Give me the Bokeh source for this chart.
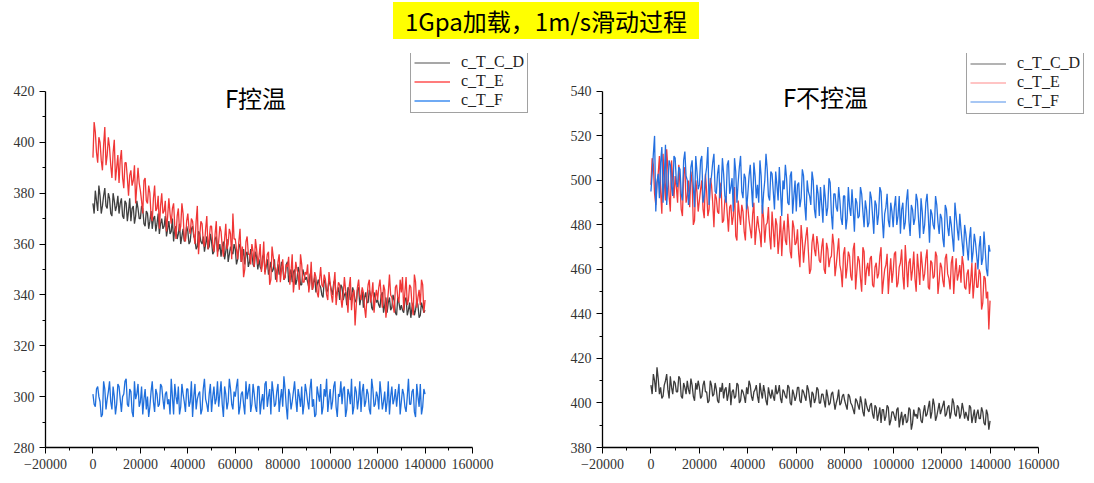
from bokeh.plotting import figure
from bokeh.models import Legend, LegendItem, Label, FixedTicker, Div
from bokeh.layouts import column, row
from bokeh.embed import file_html
from bokeh.resources import INLINE

# ---------------- data ----------------
# samples at x = 0, 1000, ..., 140000 ("main") and at the half steps 500, 1500, ... ("mid")
STEP = 1000

left_cd = [376, 381, 373, 379, 375, 382, 374, 378, 371, 377,
           375, 372, 378, 370, 376, 373, 369, 375, 371, 374,
           370, 374, 367, 372, 369, 366, 371, 368, 364, 370,
           367, 363, 369, 365, 361, 367, 364, 360, 366, 362,
           365, 361, 367, 362, 359, 364, 360, 357, 363, 359,
           361, 357, 363, 358, 355, 361, 357, 353, 359, 356,
           358, 354, 360, 355, 352, 357, 353, 356, 351, 355,
           354, 350, 356, 351, 348, 353, 350, 346, 352, 349,
           351, 347, 353, 348, 345, 350, 346, 349, 344, 348,
           347, 343, 349, 345, 341, 346, 343, 339, 345, 342,
           344, 340, 346, 341, 338, 343, 340, 336, 342, 339,
           341, 337, 343, 339, 335, 341, 337, 340, 334, 339,
           338, 335, 341, 336, 333, 339, 335, 338, 332, 337,
           336, 333, 339, 334, 331, 337, 334, 336, 332, 335,
           334]
left_cd_mid = [372, 377, 383, 372, 379, 375, 380, 372, 380, 373,
               379, 376, 371, 377, 369, 378, 374, 368, 377, 370,
               375, 368, 373, 366, 373, 370, 365, 372, 368, 366,
               371, 366, 364, 370, 366, 362, 368, 363, 361, 367,
               360, 366, 363, 358, 365, 361, 363, 360, 358, 364,
               356, 362, 357, 360, 359, 354, 362, 356, 357, 360,
               352, 359, 353, 358, 356, 351, 358, 352, 357, 350,
               351, 355, 349, 354, 350, 349, 354, 349, 348, 353,
               346, 352, 345, 350, 349, 344, 351, 344, 350, 346,
               345, 348, 342, 347, 344, 344, 340, 346, 341, 346,
               342, 345, 339, 343, 344, 338, 341, 343, 338, 343,
               338, 342, 336, 342, 339, 337, 342, 335, 341, 337,
               336, 340, 333, 339, 337, 334, 340, 333, 339, 334,
               334, 338, 332, 337, 335, 332, 338, 331, 337, 333]
left_e = [394, 404, 392, 400, 389, 406, 395, 398, 386, 401,
          390, 384, 397, 382, 392, 379, 389, 385, 376, 390,
          381, 372, 386, 376, 380, 369, 383, 374, 366, 380,
          373, 365, 378, 368, 376, 362, 374, 367, 372, 361,
          372, 364, 369, 360, 375, 363, 368, 359, 371, 362,
          367, 357, 369, 361, 365, 355, 368, 360, 364, 372,
          362, 354, 366, 359, 350, 363, 356, 360, 351, 358,
          355, 349, 361, 352, 357, 346, 355, 350, 353, 345,
          354, 347, 351, 344, 356, 346, 350, 342, 352, 345,
          348, 341, 353, 344, 347, 339, 351, 343, 346, 338,
          345, 337, 349, 341, 344, 335, 347, 339, 343, 334,
          342, 336, 346, 338, 341, 331, 344, 337, 345, 339,
          338, 346, 335, 342, 336, 348, 339, 333, 344, 337,
          341, 334, 347, 338, 343, 332, 345, 339, 336, 344,
          338]
left_e_mid = [408, 396, 402, 393, 399, 391, 402, 391, 396, 385,
              395, 393, 386, 392, 386, 387, 383, 391, 383, 384,
              377, 385, 377, 383, 371, 378, 373, 379, 375, 372,
              377, 371, 372, 374, 367, 371, 365, 376, 362, 369,
              366, 370, 364, 369, 356, 369, 361, 366, 358, 367,
              360, 364, 355, 367, 359, 362, 358, 366, 354, 362,
              358, 361, 353, 347, 361, 356, 352, 357, 362, 352,
              360, 353, 348, 356, 344, 359, 351, 345, 356, 350,
              346, 352, 355, 349, 341, 353, 348, 356, 345, 349,
              352, 345, 342, 349, 341, 346, 344, 348, 340, 349,
              340, 344, 336, 345, 339, 340, 342, 333, 347, 340,
              328, 343, 340, 343, 335, 339, 346, 340, 333, 342,
              343, 340, 344, 331, 341, 340, 336, 343, 339, 346,
              347, 341, 336, 344, 336, 348, 335, 342, 346, 333]
left_f = [301, 296, 304, 298, 293, 303, 299, 306, 295, 300,
          297, 304, 294, 301, 307, 296, 302, 292, 299, 305,
          298, 293, 303, 300, 296, 306, 294, 301, 297, 304,
          295, 302, 299, 307, 293, 300, 304, 296, 301, 294,
          303, 298, 292, 305, 299, 302, 295, 307, 297, 301,
          294, 304, 299, 296, 306, 292, 301, 298, 303, 295,
          300, 307, 296, 302, 293, 299, 305, 297, 301, 294,
          304, 298, 295, 306, 300, 293, 302, 297, 305, 299,
          296, 303, 291, 301, 298, 306, 294, 300, 304, 297,
          302, 295, 307, 299, 293, 301, 305, 296, 300, 294,
          303, 298, 306, 292, 300, 297, 304, 295, 301, 307,
          296, 302, 299, 294, 305, 298, 301, 293, 303, 297,
          300, 306, 295, 302, 298, 293, 304, 299, 296, 305,
          298, 301, 294, 307, 297, 303, 292, 300, 305, 296,
          301]
left_f_mid = [297, 303, 300, 292, 306, 295, 302, 298, 304, 293,
              305, 299, 300, 306, 297, 303, 294, 306, 301, 296,
              304, 299, 295, 292, 302, 298, 303, 296, 305, 299,
              301, 297, 293, 300, 305, 297, 293, 305, 298, 303,
              296, 306, 300, 295, 301, 293, 303, 299, 294, 305,
              300, 297, 306, 301, 297, 304, 295, 307, 297, 302,
              304, 293, 301, 297, 306, 302, 294, 305, 296, 304,
              293, 301, 305, 296, 303, 306, 296, 302, 294, 303,
              308, 296, 303, 295, 302, 299, 303, 296, 293, 305,
              298, 303, 296, 292, 304, 298, 293, 303, 307, 299,
              295, 304, 296, 301, 306, 303, 292, 303, 297, 293,
              304, 295, 306, 302, 296, 303, 295, 307, 296, 302,
              295, 301, 298, 294, 306, 300, 297, 303, 301, 293,
              303, 296, 300, 297, 302, 294, 305, 296, 293, 303]

right_cd = [408, 413, 405, 411, 407, 403, 410, 406, 412, 404,
            409, 405, 411, 402, 407, 410, 404, 408, 401, 406,
            407, 403, 410, 405, 401, 408, 404, 406, 400, 405,
            402, 407, 404, 399, 406, 403, 408, 401, 405, 400,
            404, 408, 401, 406, 403, 409, 402, 405, 399, 404,
            406, 401, 404, 408, 400, 405, 402, 407, 399, 404,
            403, 407, 400, 405, 401, 406, 398, 404, 402, 406,
            400, 404, 398, 403, 400, 405, 397, 402, 399, 403,
            401, 397, 403, 399, 395, 401, 397, 400, 394, 399,
            396, 400, 393, 398, 395, 391, 397, 394, 398, 392,
            396, 392, 398, 393, 390, 395, 392, 397, 391, 394,
            393, 397, 391, 399, 395, 401, 396, 399, 394, 400,
            397, 401, 395, 399, 396, 400, 394, 398, 395, 397,
            396, 392, 398, 394, 391, 397, 393, 396, 390, 395,
            392]
right_cd_mid = [404, 410, 416, 404, 402, 408, 413, 402, 407, 410,
                405, 412, 403, 409, 404, 406, 411, 403, 409, 410,
                402, 408, 405, 400, 410, 403, 409, 401, 407, 409,
                406, 401, 409, 405, 402, 409, 400, 406, 403, 407,
                410, 403, 405, 408, 400, 405, 408, 401, 407, 402,
                403, 408, 405, 402, 406, 403, 408, 400, 406, 401,
                407, 401, 406, 403, 408, 402, 405, 400, 407, 400,
                404, 401, 406, 399, 404, 401, 400, 406, 400, 404,
                399, 404, 400, 397, 402, 399, 403, 396, 402, 397,
                399, 395, 399, 392, 398, 397, 392, 399, 390, 396,
                394, 397, 389, 396, 394, 391, 398, 388, 397, 395,
                398, 392, 396, 394, 398, 393, 402, 392, 397, 395,
                399, 394, 398, 393, 402, 395, 399, 393, 400, 393,
                394, 399, 391, 397, 395, 393, 398, 391, 397, 388]
right_e = [498, 507, 489, 503, 495, 512, 491, 505, 486, 500,
           502, 490, 498, 484, 506, 493, 488, 499, 482, 495,
           491, 500, 483, 495, 487, 498, 479, 492, 485, 496,
           482, 493, 477, 489, 484, 475, 491, 480, 486, 473,
           488, 478, 485, 471, 484, 476, 489, 472, 481, 475,
           486, 470, 480, 474, 466, 482, 471, 477, 465, 479,
           472, 467, 480, 463, 475, 468, 460, 476, 466, 471,
           463, 474, 458, 469, 465, 476, 457, 468, 462, 452,
           470, 461, 466, 455, 472, 459, 464, 450, 468, 460,
           457, 466, 452, 463, 458, 470, 455, 462, 449, 465,
           459, 468, 454, 463, 457, 471, 452, 465, 460, 456,
           467, 453, 462, 458, 469, 451, 463, 457, 466, 455,
           461, 452, 467, 456, 463, 449, 465, 458, 454, 462,
           451, 460, 455, 447, 463, 452, 458, 445, 456, 450,
           446]
right_e_mid = [510, 494, 499, 511, 485, 500, 514, 493, 509, 492,
               497, 507, 487, 503, 490, 500, 504, 480, 500, 486,
               496, 487, 503, 484, 501, 490, 494, 486, 499, 481,
               491, 485, 488, 480, 497, 473, 485, 489, 477, 490,
               482, 474, 490, 478, 479, 470, 483, 480, 488, 469,
               478, 483, 467, 484, 477, 473, 485, 468, 482, 471,
               478, 461, 473, 470, 479, 458, 472, 469, 475, 464,
               470, 460, 472, 461, 466, 471, 462, 474, 459, 467,
               456, 468, 457, 469, 451, 466, 456, 470, 453, 463,
               465, 453, 461, 456, 466, 449, 460, 467, 458, 454,
               467, 452, 461, 469, 451, 462, 463, 455, 468, 450,
               460, 468, 455, 465, 452, 464, 456, 468, 449, 463,
               455, 465, 458, 451, 466, 458, 455, 462, 466, 452,
               458, 449, 463, 454, 452, 460, 442, 457, 447, 433]
right_f = [495, 512, 486, 503, 508, 490, 516, 498, 507, 493,
           510, 497, 505, 491, 513, 500, 495, 509, 488, 504,
           498, 511, 493, 506, 489, 502, 512, 494, 507, 496,
           503, 490, 509, 497, 486, 504, 499, 511, 492, 501,
           494, 507, 488, 502, 498, 509, 485, 500, 505, 491,
           503, 487, 498, 506, 484, 496, 501, 489, 504, 493,
           486, 499, 492, 502, 482, 495, 489, 500, 483, 494,
           497, 481, 492, 488, 499, 478, 494, 486, 491, 480,
           493, 483, 488, 496, 477, 490, 484, 494, 479, 487,
           481, 492, 476, 489, 485, 495, 474, 488, 482, 490,
           479, 493, 484, 476, 490, 481, 496, 475, 487, 483,
           491, 474, 486, 480, 494, 472, 485, 478, 489, 476,
           483, 470, 487, 475, 480, 468, 484, 473, 478, 466,
           476, 464, 479, 468, 472, 460, 475, 465, 469, 457,
           468]
right_f_mid = [503, 520, 499, 492, 515, 501, 489, 509, 497, 511,
               499, 506, 494, 509, 502, 489, 506, 497, 511, 496,
               509, 490, 502, 515, 498, 508, 495, 503, 492, 510,
               493, 507, 494, 501, 510, 490, 506, 495, 503, 487,
               502, 497, 508, 492, 490, 502, 494, 512, 493, 504,
               495, 504, 491, 495, 500, 507, 490, 502, 485, 500,
               498, 488, 505, 489, 500, 493, 504, 487, 498, 484,
               489, 498, 484, 501, 485, 494, 488, 497, 483, 493,
               478, 497, 484, 487, 492, 483, 497, 486, 491, 479,
               495, 484, 491, 480, 497, 483, 485, 494, 479, 486,
               488, 480, 493, 487, 478, 491, 482, 489, 480, 494,
               482, 492, 476, 490, 484, 487, 480, 493, 481, 485,
               474, 489, 479, 484, 474, 490, 478, 485, 472, 480,
               470, 474, 463, 476, 466, 470, 462, 477, 460, 471]

series_names = ["c_T_C_D", "c_T_E", "c_T_F"]
x_ticks = [-20000, 0, 20000, 40000, 60000, 80000, 100000, 120000, 140000, 160000]
x_minor = [-10000, 10000, 30000, 50000, 70000, 90000, 110000, 130000, 150000]
left_y_ticks = [280, 300, 320, 340, 360, 380, 400, 420]
right_y_ticks = [380, 400, 420, 440, 460, 480, 500, 520, 540]
main_title = "1Gpa加载，1m/s滑动过程"
left_title = "F控温"
right_title = "F不控温"


def merge(main, mid):
    """Interleave the samples at whole and half steps -> (x, y)."""
    x, y = [], []
    for i, v in enumerate(main):
        x.append(i * STEP)
        y.append(v)
        if i < len(mid):
            x.append(i * STEP + STEP // 2)
            y.append(mid[i])
    return x, y


def style_axes(p, yticks):
    p.xaxis.ticker = FixedTicker(ticks=x_ticks, minor_ticks=x_minor)
    p.xaxis.major_label_overrides = {t: (str(t).replace("-", "\u2212")) for t in x_ticks}
    p.xaxis.bounds = (x_ticks[0], x_ticks[-1])
    yminor = [v + 10 for v in yticks[:-1]]
    p.yaxis.ticker = FixedTicker(ticks=yticks, minor_ticks=yminor)
    p.yaxis.bounds = (yticks[0], yticks[-1])
    for ax in (p.xaxis, p.yaxis):
        ax.axis_line_color = "black"
        ax.axis_line_width = 1.3
        ax.major_tick_line_color = "black"
        ax.minor_tick_line_color = "black"
        ax.major_tick_in = 0
        ax.major_tick_out = 6
        ax.minor_tick_in = 0
        ax.minor_tick_out = 3
        ax.major_label_text_font = "Liberation Serif"
        ax.major_label_text_font_size = "14px"
        ax.major_label_text_color = "#333333"
    p.xaxis.major_label_standoff = 5
    p.yaxis.major_label_standoff = 5
    p.xgrid.visible = False
    p.ygrid.visible = False
    p.outline_line_color = None


def make_legend(p, colors, x, y):
    items = []
    nan = float("nan")
    for name, c in zip(series_names, colors):
        r = p.line(x=[nan, nan], y=[nan, nan], line_color=c, line_width=1.5)
        items.append(LegendItem(label=name, renderers=[r]))
    lg = Legend(items=items, location=(x, y))
    lg.label_text_font = "Liberation Serif"
    lg.label_text_font_size = "16px"
    lg.label_text_color = "#222222"
    lg.glyph_width = 36
    lg.glyph_height = 17
    lg.label_height = 17
    lg.label_standoff = 11
    lg.spacing = 1
    lg.padding = 3
    lg.margin = 0
    lg.border_line_color = "#444444"
    lg.border_line_width = 1
    lg.background_fill_color = "white"
    lg.background_fill_alpha = 1
    p.add_layout(lg)


LW = 1.3

# ---------------- left figure ----------------
p1 = figure(width=545, height=425, x_range=(-20000, 185293), y_range=(280, 434.94),
            output_backend="svg", toolbar_location=None,
            min_border_left=45, min_border_right=13, min_border_top=1, min_border_bottom=30)
for (m, d, c) in [(left_cd, left_cd_mid, "#3f3f3f"), (left_e, left_e_mid, "#f03636"),
                  (left_f, left_f_mid, "#1f6fdc")]:
    xx, yy = merge(m, d)
    p1.line(xx, yy, line_color=c, line_width=LW)
style_axes(p1, left_y_ticks)
p1.add_layout(Label(x=210, y=350, x_units="screen", y_units="screen", text=left_title,
                    text_font="Noto Sans CJK SC", text_font_size="24px", text_color="black",
                    text_align="center", text_baseline="middle"))
make_legend(p1, ["#8a8a8a", "#ff5050", "#3f8ef0"], 365, 334)

# ---------------- right figure ----------------
p2 = figure(width=541, height=425, x_range=(-20000, 179817), y_range=(380, 557.03),
            output_backend="svg", toolbar_location=None,
            min_border_left=57, min_border_right=0, min_border_top=1, min_border_bottom=29)
for (m, d, c) in [(right_cd, right_cd_mid, "#3c3c3c"), (right_e, right_e_mid, "#f23a3a"),
                  (right_f, right_f_mid, "#2470e0")]:
    xx, yy = merge(m, d)
    p2.line(xx, yy, line_color=c, line_width=LW)
style_axes(p2, right_y_ticks)
p2.add_layout(Label(x=223, y=351, x_units="screen", y_units="screen", text=right_title,
                    text_font="Noto Sans CJK SC", text_font_size="24px", text_color="black",
                    text_align="center", text_baseline="middle"))
make_legend(p2, ["#9a9a9a", "#ffb0b0", "#8ab4f0"], 364, 333)

# ---------------- title ----------------
title_div = Div(
    text=("<div style=\"margin-left:388px;margin-top:-3px;width:306px;height:37px;"
          "background:#ffff00;font-family:'Noto Sans CJK SC';font-size:24px;"
          "line-height:37px;text-align:center;color:#000;\">" + main_title + "</div>"),
    width=1086, height=42)

layout = column(title_div, row(p1, p2))
open("out.html", "w").write(file_html(layout, INLINE))
